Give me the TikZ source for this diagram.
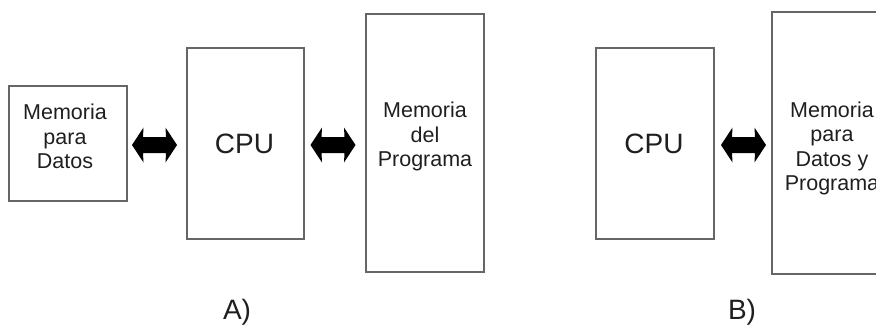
\documentclass[tikz,border=0pt]{standalone}
\usepackage{fontspec}
\setmainfont{Liberation Sans}
\begin{document}
\begin{tikzpicture}[x=1pt,y=-1pt,
  blk/.style={draw=black!60, line width=1.1pt, inner sep=0pt},
  lbl/.style={align=center, text=black!88, font=\fontsize{21.5}{24.5}\selectfont},
  big/.style={text=black!88, font=\fontsize{28}{30}\selectfont},
  dblarrow/.pic={\fill[black] (-22.5,0) -- (-11,-17.5) -- (-11.5,-8) -- (11.5,-8)
     -- (11,-17.5) -- (22.5,0) -- (11,17.5) -- (11.5,8) -- (-11.5,8)
     -- (-11,17.5) -- cycle;
     \coordinate (-c) at (0,0);}]
\useasboundingbox (0,0) rectangle (876,325);
\clip (0,0) rectangle (876,325);
% A)
\node[blk, minimum width=118pt, minimum height=115pt] (md) at (68,143.5) {};
\node[lbl] (mdt) at (65,136.5) {Memoria\\para\\Datos};
\node[blk, minimum width=117pt, minimum height=191pt] (cpua) at (245.5,143.5) {};
\node[big] (cpuat) at (244.5,143.5) {CPU};
\node[blk, minimum width=118pt, minimum height=258pt] (mp) at (425,143) {};
\node[lbl] (mpt) at (425,136.5) {Memoria\\del\\Programa};
\pic (a1) at (154.5,145) {dblarrow};
\pic (a2) at (333,145) {dblarrow};
\node[big] (la) at (237,312) {A)};
% B)
\node[blk, minimum width=118pt, minimum height=191pt] (cpub) at (655,143.5) {};
\node[big] (cpubt) at (654,143.5) {CPU};
\node[blk, minimum width=120pt, minimum height=262pt] (mdp) at (832,143) {};
\node[lbl] (mdpt) at (832,148.5) {Memoria\\para\\Datos y\\Programa};
\pic (a3) at (743.5,145) {dblarrow};
\node[big] (lb) at (742,312) {B)};
\end{tikzpicture}
\end{document}
